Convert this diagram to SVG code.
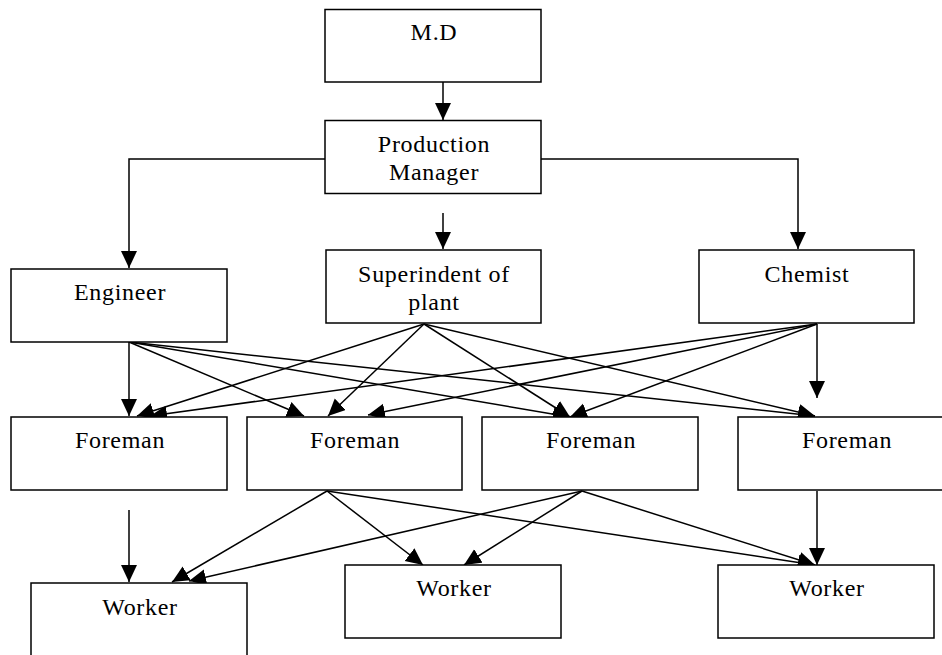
<svg xmlns="http://www.w3.org/2000/svg" width="942" height="655" viewBox="0 0 942 655">
  <style>
    .box rect { fill: #ffffff; stroke: #000000; stroke-width: 1.5; }
    .box text { font-family: "Liberation Serif", "Times New Roman", serif; font-size: 24px; letter-spacing: 0.7px; text-anchor: middle; fill: #000000; }
    .edges path { fill: none; stroke: #000000; stroke-width: 1.5; marker-end: url(#arrow); }
  </style>
  <defs>
    <marker id="arrow" markerUnits="userSpaceOnUse" markerWidth="19" markerHeight="17" refX="17" refY="8" orient="auto">
      <path d="M0,0 L17,8 L0,16 z" fill="#000000"/>
    </marker>
  </defs>

  <rect width="942" height="655" fill="#ffffff"/>

  <!-- connectors -->
  <g id="connectors" class="edges">
    <path d="M443,82 V120"/>
    <path d="M325,159 H129 V268"/>
    <path d="M443,213 V249"/>
    <path d="M541,159 H798 V249"/>

    <!-- Engineer to foremen -->
    <path d="M129,342 V416"/>
    <path d="M129,342 L304,416"/>
    <path d="M129,342 L570,417"/>
    <path d="M129,342 L815,416"/>

    <!-- Superintendent to foremen -->
    <path d="M424,324 L137,416"/>
    <path d="M424,324 L328,416"/>
    <path d="M424,324 L570,417"/>
    <path d="M424,324 L815,416"/>

    <!-- Chemist to foremen -->
    <path d="M817,324 L150,416"/>
    <path d="M817,324 L368,415"/>
    <path d="M817,324 L570,417"/>
    <path d="M817,324 V398"/>

    <!-- Foremen to workers -->
    <path d="M129,510 V582"/>
    <path d="M327,491 L172,582"/>
    <path d="M327,491 L423,565"/>
    <path d="M327,491 L815,565"/>
    <path d="M582,491 L189,581"/>
    <path d="M582,491 L464,565"/>
    <path d="M582,491 L815,565"/>
    <path d="M817,491 V565"/>
  </g>

  <!-- nodes -->
  <g id="md" class="box">
    <rect x="325" y="9.5" width="216" height="72.5"/>
    <text x="434" y="40">M.D</text>
  </g>
  <g id="production-manager" class="box">
    <rect x="325" y="120.5" width="216" height="73"/>
    <text x="434" y="152">Production</text>
    <text x="434" y="180">Manager</text>
  </g>
  <g id="engineer" class="box">
    <rect x="11" y="269" width="216" height="73"/>
    <text x="120" y="300">Engineer</text>
  </g>
  <g id="superintendent" class="box">
    <rect x="326" y="250" width="215" height="73"/>
    <text x="434" y="282">Superindent of</text>
    <text x="434" y="310">plant</text>
  </g>
  <g id="chemist" class="box">
    <rect x="699" y="250" width="215" height="73"/>
    <text x="807" y="282">Chemist</text>
  </g>
  <g id="foreman-1" class="box">
    <rect x="11" y="417" width="216" height="73"/>
    <text x="120" y="448">Foreman</text>
  </g>
  <g id="foreman-2" class="box">
    <rect x="247" y="417" width="215" height="73"/>
    <text x="355" y="448">Foreman</text>
  </g>
  <g id="foreman-3" class="box">
    <rect x="482" y="417" width="216" height="73"/>
    <text x="591" y="448">Foreman</text>
  </g>
  <g id="foreman-4" class="box">
    <rect x="738" y="417" width="216" height="73"/>
    <text x="847" y="448">Foreman</text>
  </g>
  <g id="worker-1" class="box">
    <rect x="31" y="583" width="216" height="80"/>
    <text x="140" y="615">Worker</text>
  </g>
  <g id="worker-2" class="box">
    <rect x="345" y="565" width="216" height="73"/>
    <text x="454" y="596">Worker</text>
  </g>
  <g id="worker-3" class="box">
    <rect x="718" y="565" width="216" height="73"/>
    <text x="827" y="596">Worker</text>
  </g>
</svg>
